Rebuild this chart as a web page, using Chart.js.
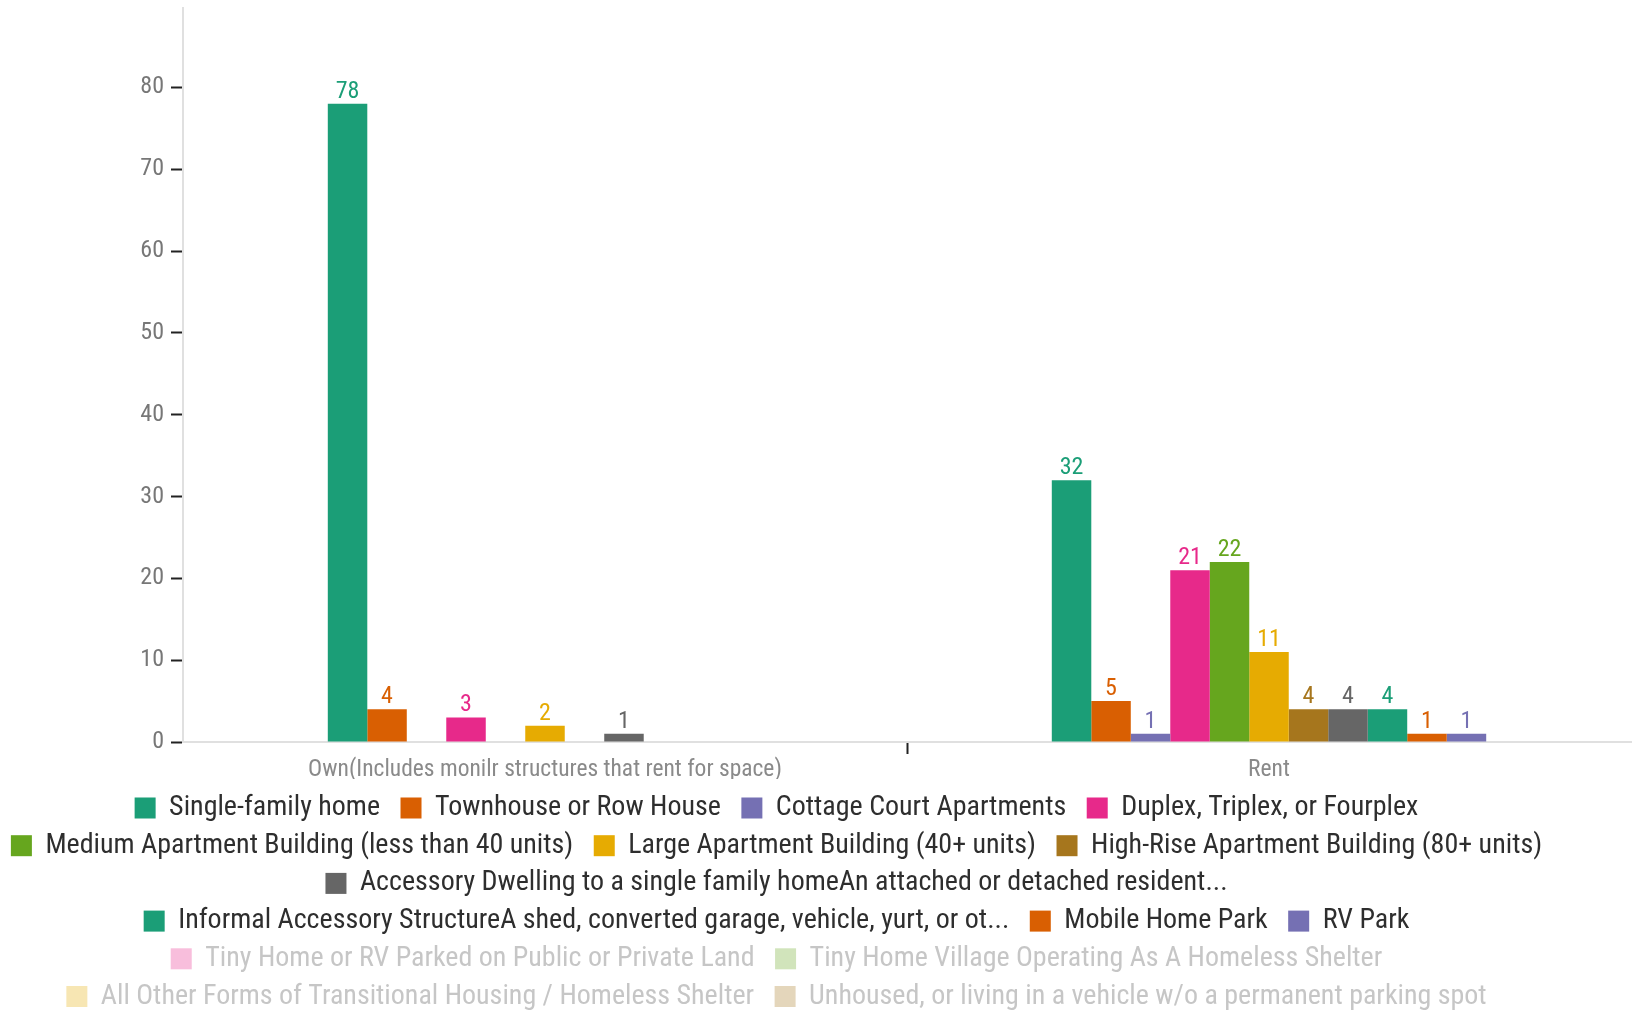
<!DOCTYPE html>
<html>
<head>
<meta charset="utf-8">
<script src="https://cdn.jsdelivr.net/npm/chart.js@4.4.1/dist/chart.umd.min.js"></script>
<style>
    body { margin: 0; background: #fff; overflow: hidden; }
    .c-wrap { width: 1634px; height: 1010px; position: relative; }
</style>
</head>
<body>
<div class="c-wrap"><canvas class="js-graph"></canvas></div>
<script>
const categories = ['Own(Includes monilr structures that rent for space)', 'Rent'];

const seriesNames = [
    'Single-family home',
    'Townhouse or Row House',
    'Cottage Court Apartments',
    'Duplex, Triplex, or Fourplex',
    'Medium Apartment Building (less than 40 units)',
    'Large Apartment Building (40+ units)',
    'High-Rise Apartment Building (80+ units)',
    'Accessory Dwelling to a single family homeAn attached or detached resident...',
    'Informal Accessory StructureA shed, converted garage, vehicle, yurt, or ot...',
    'Mobile Home Park',
    'RV Park',
    'Tiny Home or RV Parked on Public or Private Land',
    'Tiny Home Village Operating As A Homeless Shelter',
    'All Other Forms of Transitional Housing / Homeless Shelter',
    'Unhoused, or living in a vehicle w/o a permanent parking spot'
];

const ownValues  = [78, 4, 0, 3, 0, 2, 0, 1, 0, 0, 0, 0, 0, 0, 0];
const rentValues = [32, 5, 1, 21, 22, 11, 4, 4, 4, 1, 1, 0, 0, 0, 0];

// series switched off in the legend
const hiddenSeries = [false, false, false, false, false, false, false, false, false, false, false, true, true, true, true];

const yTicks = [0, 10, 20, 30, 40, 50, 60, 70, 80];

// Dark2 palette, repeated
const palette = ['#1b9e77', '#d95f02', '#7570b3', '#e7298a', '#66a61e', '#e6ab02', '#a6761d', '#666666'];

const FONT = "'Roboto Condensed', Roboto, sans-serif";

const hexToRgba = (hex, a) => {
    const n = parseInt(hex.slice(1), 16);
    return `rgba(${(n >> 16) & 255}, ${(n >> 8) & 255}, ${n & 255}, ${a})`;
}

const datasets = seriesNames.map((name, i) => ({
    label: name,
    data: [ownValues[i], rentValues[i]],
    backgroundColor: palette[i % palette.length],
    borderWidth: 0,
    hidden: hiddenSeries[i],
    categoryPercentage: 0.6,
    barPercentage: 1
}));

// numbers on top of the bars, same colour as the bar
const barValues = {
    id: 'barValues',
    afterDatasetsDraw(chart) {
        const ctx = chart.ctx;
        ctx.save();
        ctx.font = `24px ${FONT}`;
        ctx.textAlign = 'center';
        ctx.textBaseline = 'alphabetic';
        chart.data.datasets.forEach((ds, i) => {
            if (!chart.isDatasetVisible(i)) return;
            const meta = chart.getDatasetMeta(i);
            meta.data.forEach((bar, j) => {
                const v = ds.data[j];
                if (!v) return;
                ctx.fillStyle = ds.backgroundColor;
                ctx.fillText(v, bar.x, bar.y - 6);
            });
        });
        ctx.restore();
    }
};

// legend drawn under the axis, rows centred, hidden series greyed out
const legendOpts = {
    size: 28,
    box: 21,
    boxGap: 13.5,
    itemGap: 20.5,
    rowHeight: 37.7,
    firstRow: 808,
    center: 776.5,
    maxWidth: 1550
};

const bottomLegend = {
    id: 'bottomLegend',
    afterDraw(chart) {
        const ctx = chart.ctx;
        const o = legendOpts;
        ctx.save();
        ctx.font = `${o.size}px ${FONT}`;
        ctx.textBaseline = 'middle';
        ctx.textAlign = 'left';

        const items = chart.data.datasets.map((ds) => ({
            text: ds.label,
            color: ds.backgroundColor,
            off: ds.hidden,
            width: o.box + o.boxGap + ctx.measureText(ds.label).width
        }));

        // wrap into rows
        const rows = [[]];
        let rowWidth = 0;
        for (const item of items) {
            const row = rows[rows.length - 1];
            const w = row.length ? rowWidth + o.itemGap + item.width : item.width;
            if (row.length && w > o.maxWidth) {
                rows.push([item]);
                rowWidth = item.width;
            } else {
                row.push(item);
                rowWidth = w;
            }
        }

        rows.forEach((row, r) => {
            const total = row.reduce((s, it) => s + it.width, 0) + o.itemGap * (row.length - 1);
            let x = o.center - total / 2;
            const y = o.firstRow + r * o.rowHeight;
            for (const it of row) {
                ctx.fillStyle = it.off ? hexToRgba(it.color, 0.3) : it.color;
                ctx.fillRect(x, y - o.box / 2, o.box, o.box);
                ctx.fillStyle = it.off ? '#c6c6c6' : '#2e2e2e';
                ctx.fillText(it.text, x + o.box + o.boxGap, y);
                x += it.width + o.itemGap;
            }
        });
        ctx.restore();
    }
};

const config = {
    type: 'bar',
    data: {
        labels: categories,
        datasets: datasets
    },
    options: {
        responsive: true,
        maintainAspectRatio: false,
        animation: false,
        layout: {
            padding: { top: 8, right: 3, left: 0, bottom: 231 }
        },
        plugins: {
            legend: { display: false },
            tooltip: { enabled: false }
        },
        scales: {
            x: {
                afterFit: (axis) => { axis.height = 37; },
                ticks: {
                    color: '#8a8a8a',
                    padding: 2,
                    font: { family: FONT, size: 23.5 }
                },
                grid: {
                    drawOnChartArea: false,
                    tickLength: 12,
                    tickWidth: 2,
                    tickColor: (c) => c.index === 1 ? '#222' : 'rgba(0,0,0,0)'
                },
                border: { color: '#e0e0e0', width: 2 }
            },
            y: {
                min: 0,
                max: 89.7,
                afterFit: (axis) => {
                    axis.width = 183;
                    axis.paddingTop = 0;
                    axis.paddingBottom = 0;
                },
                afterBuildTicks: (axis) => {
                    axis.ticks = yTicks.map((v) => ({ value: v }));
                },
                ticks: {
                    color: '#777777',
                    padding: 7,
                    font: { family: FONT, size: 24 }
                },
                grid: {
                    drawOnChartArea: false,
                    tickLength: 12,
                    tickWidth: 2,
                    tickColor: '#222'
                },
                border: { color: '#e0e0e0', width: 2 }
            }
        }
    },
    plugins: [barValues, bottomLegend]
};

document.addEventListener('DOMContentLoaded', function() {
    const graph = document.querySelector('.js-graph').getContext('2d');
    new Chart(graph, config);
});
</script>
</body>
</html>
